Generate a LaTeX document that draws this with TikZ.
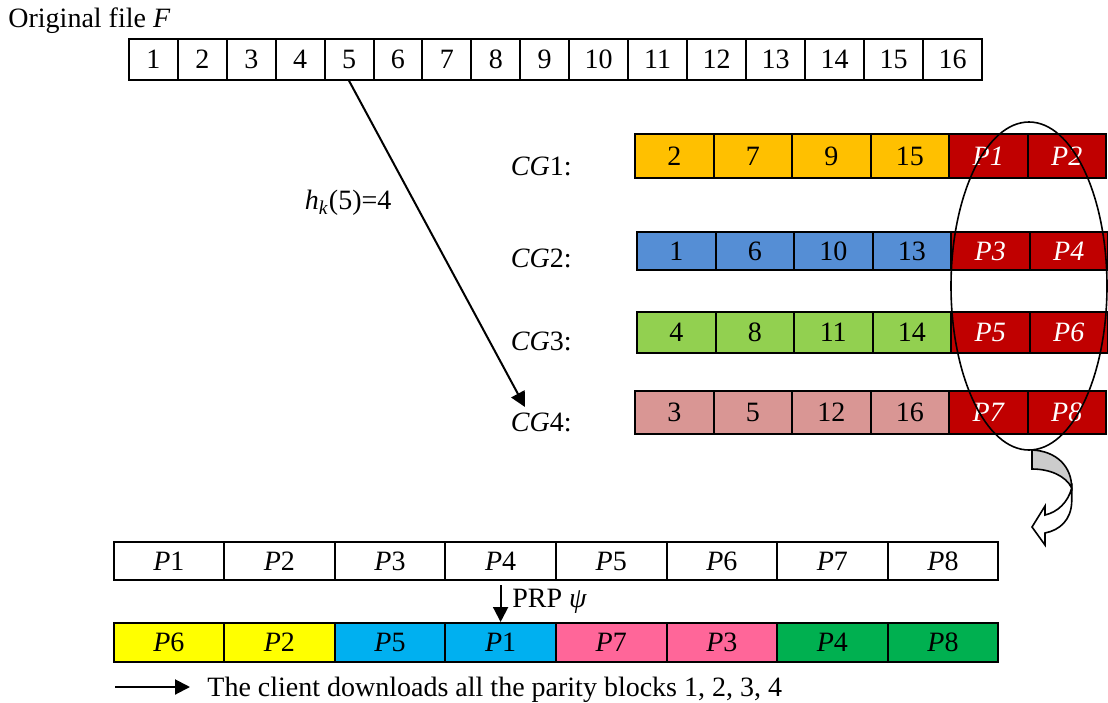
\documentclass[tikz,border=0pt]{standalone}
\usepackage{fontspec}
\setmainfont{Liberation Serif}
\usepackage{xcolor}
\usepackage{tikz}
\usetikzlibrary{shapes.geometric, arrows.meta, positioning}

\definecolor{cgorange}{HTML}{FFC000}
\definecolor{cgblue}{HTML}{558ED5}
\definecolor{cggreen}{HTML}{92D050}
\definecolor{cgpink}{HTML}{D99694}
\definecolor{parred}{HTML}{C00000}
\definecolor{prpyellow}{HTML}{FFFF00}
\definecolor{prpcyan}{HTML}{00B0F0}
\definecolor{prppink}{HTML}{FF6699}
\definecolor{prpgreen}{HTML}{00B050}

\begin{document}
\begin{tikzpicture}[
  x=0.5pt, y=-0.5pt,
  font=\fontsize{14}{16}\selectfont,
  cell/.style={rectangle, draw, line width=1pt, inner sep=0pt, anchor=north west},
  parity/.style={cell, fill=parred, text=white, font=\fontsize{14}{16}\selectfont\itshape},
  txt/.style={inner sep=0pt},
  line/.style={draw, line width=1pt, -{Triangle[length=7.5pt, width=7.5pt]}}
]
  \useasboundingbox (0,0) rectangle (1108,702);

  % original file F
  \node [txt, anchor=base west] (title) at (8,27) {Original file \textit{F}};
  \foreach \i in {1,...,9}
    \node [cell, minimum width=24.45pt, minimum height=20.4pt] (f\i) at ({128+(\i-1)*48.9},38) {\i};
  \foreach \i in {10,...,16}
    \node [cell, minimum width=29.5pt, minimum height=20.4pt] (f\i) at ({568.1+(\i-10)*59},38) {\i};

  % coded groups
  \foreach \row/\ya/\yb/\lft/\col/\na/\nb/\nc/\nd/\pa/\pb in {
      1/133/177/634/cgorange/2/7/9/15/1/2,
      2/231/269/636/cgblue/1/6/10/13/3/4,
      3/311/352/636/cggreen/4/8/11/14/5/6,
      4/390/433/634/cgpink/3/5/12/16/7/8} {
    \node [txt, anchor=base east] (cg\row) at (572,\yb-2) {\textit{CG}\row:};
    \foreach \v [count=\j] in {\na,\nb,\nc,\nd}
      \node [cell, fill=\col, minimum width=39.25pt, minimum height={(\yb-\ya)*0.5pt}] (cg\row-\j) at ({\lft+(\j-1)*78.5},\ya) {\v};
    \node [parity, minimum width=39.25pt, minimum height={(\yb-\ya)*0.5pt}] (cg\row-5) at ({\lft+4*78.5},\ya) {P\pa};
    \node [parity, minimum width=39.25pt, minimum height={(\yb-\ya)*0.5pt}] (cg\row-6) at ({\lft+5*78.5},\ya) {P\pb};
  }

  % hash of block 5
  \coordinate (hk) at (525,407);
  \draw [line] (f5.south) -- node [pos=0.375, left=8pt] {\textit{h}\textsubscript{\textit{k}}(5)=4} (hk);

  % parity blocks taken out
  \node [draw, ellipse, line width=0.8pt, minimum width=78pt, minimum height=164pt, inner sep=0pt] (grp) at (1029,286) {};
  \filldraw [fill=white, line width=0.8pt] (1071.7,488) -- (1071.7,502)
    .. controls (1071,520) and (1060,530) .. (1045,533) -- (1045,545) -- (1032,527) -- (1045,506) -- (1045,515)
    .. controls (1058,512) and (1068,502) .. (1071.7,488) -- cycle;
  \filldraw [fill=gray!40, line width=0.8pt] (1032,450) .. controls (1056,451) and (1071.7,466) .. (1071.7,488)
    .. controls (1066,476) and (1050,469) .. (1032,469) -- cycle;

  % permutation of parity blocks
  \foreach \j in {1,...,8}
    \node [cell, minimum width=55.3pt, minimum height=19pt] (b\j) at ({112.5+(\j-1)*110.6},541) {\textit{P}\j};
  \foreach \lab/\col [count=\j] in {6/prpyellow, 2/prpyellow, 5/prpcyan, 1/prpcyan, 7/prppink, 3/prppink, 4/prpgreen, 8/prpgreen}
    \node [cell, fill=\col, minimum width=55.3pt, minimum height=19.5pt] (c\j) at ({112.5+(\j-1)*110.6},622) {\textit{P}\lab};
  \draw [line, shorten <=2pt] (b4.south) -- node [midway, right=2pt] {PRP \textit{ψ}} (c4.north);

  % download note
  \node [txt, anchor=base west] (note) at (207,696) {The client downloads all the parity blocks 1, 2, 3, 4};
  \coordinate (lg) at (115,687);
  \draw [line, shorten >=8.5pt] (lg) -- (lg -| note.west);
\end{tikzpicture}
\end{document}
